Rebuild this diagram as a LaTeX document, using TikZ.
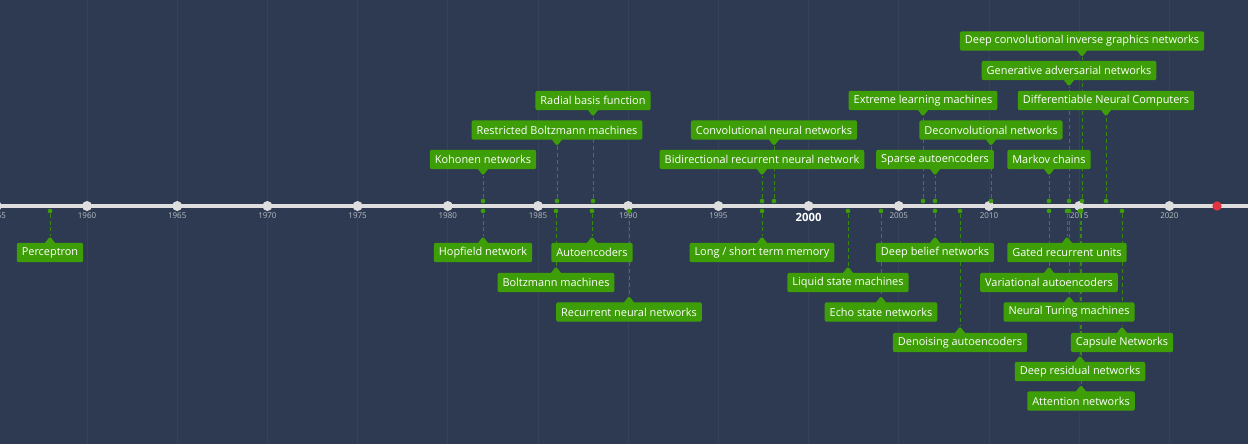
\documentclass[tikz,border=0pt]{standalone}
\usepackage{fontspec}
\setmainfont{Open Sans}
\usetikzlibrary{shapes.callouts,backgrounds}
\definecolor{slate}{RGB}{45,58,81}
\definecolor{gridline}{RGB}{54,66,88}
\definecolor{leaf}{RGB}{62,158,8}
\definecolor{stemgreen}{RGB}{52,138,14}
\definecolor{axisgray}{RGB}{222,222,222}
\definecolor{yeargray}{RGB}{185,190,198}
\definecolor{nowred}{RGB}{226,52,64}

\begin{document}
\begin{tikzpicture}[x=0.75pt,y=-0.75pt,
  lbl/.style={rectangle callout, fill=leaf, text=white, font=\fontsize{8.2}{9}\selectfont,
              minimum height=14.5pt, inner xsep=3.75pt, inner ysep=0pt,
              rounded corners=1.5pt, callout pointer width=7.5pt},
  evdot/.style={circle, fill=leaf, inner sep=0pt, minimum size=3.5pt},
  evline/.style={stemgreen, dash pattern=on 3pt off 2.2pt, line width=0.75pt},
  yeardot/.style={circle, fill=axisgray, inner sep=0pt, minimum size=7.5pt},
  yr/.style={text=yeargray, font=\fontsize{6}{7}\selectfont, inner sep=0pt}
]
\useasboundingbox (0,0) rectangle (1248,444);
\clip (0,0) rectangle (1248,444);

% backdrop and 5-year grid
\begin{pgfonlayer}{background}
\fill[slate] (0,0) rectangle (1248,444);
\foreach \y in {1955,1960,...,2020}{
  \pgfmathsetmacro\px{87+(\y-1960)*18.04}
  \draw[gridline, line width=0.75pt] (\px,0) -- (\px,444);
}
\end{pgfonlayer}

% axis
\draw[axisgray, line width=3pt] (0,206) -- (1248,206);
\foreach \y in {1955,1960,...,2020}{
  \pgfmathsetmacro\px{87+(\y-1960)*18.04}
  \node[yeardot] (t\y) at (\px,206) {};
  \ifnum\y=2000
    \node[text=white, font=\fontsize{8.5}{9}\bfseries, inner sep=0pt] (l\y) at (\px,217) {\y};
  \else
    \node[yr] (l\y) at (\px,216) {\y};
  \fi
}
\node[circle, fill=nowred, inner sep=0pt, minimum size=7pt] (now) at (1217,206) {};

% events above the axis
\node[evdot] (kohonen-d) at (483,201) {};
\node[lbl, callout absolute pointer={(483,175.5)}] (kohonen) at (483,159.5) {Kohonen networks};
\node[evdot] (rbm-d) at (557,201) {};
\node[lbl, callout absolute pointer={(557,146)}] (rbm) at (557,130) {Restricted Boltzmann machines};
\node[evdot] (rbf-d) at (593,201) {};
\node[lbl, callout absolute pointer={(593,116.5)}] (rbf) at (593,100.5) {Radial basis function};
\node[evdot] (brnn-d) at (762,201) {};
\node[lbl, callout absolute pointer={(762,175.5)}] (brnn) at (762,159.5) {Bidirectional recurrent neural network};
\node[evdot] (cnn-d) at (774,201) {};
\node[lbl, callout absolute pointer={(774,146)}] (cnn) at (774,130) {Convolutional neural networks};
\node[evdot] (elm-d) at (923,201) {};
\node[lbl, callout absolute pointer={(923,116.5)}] (elm) at (923,100.5) {Extreme learning machines};
\node[evdot] (sae-d) at (935,201) {};
\node[lbl, callout absolute pointer={(935,175.5)}] (sae) at (935,159.5) {Sparse autoencoders};
\node[evdot] (dcn-d) at (991,201) {};
\node[lbl, callout absolute pointer={(991,146)}] (dcn) at (991,130) {Deconvolutional networks};
\node[evdot] (markov-d) at (1049,201) {};
\node[lbl, callout absolute pointer={(1049,175.5)}] (markov) at (1049,159.5) {Markov chains};
\node[evdot] (gan-d) at (1069,201) {};
\node[lbl, callout absolute pointer={(1069,86.5)}] (gan) at (1069,70.5) {Generative adversarial networks};
\node[evdot] (dcign-d) at (1082,201) {};
\node[lbl, callout absolute pointer={(1082,57)}] (dcign) at (1082,41) {Deep convolutional inverse graphics networks};
\node[evdot] (dnc-d) at (1106,201) {};
\node[lbl, callout absolute pointer={(1106,116.5)}] (dnc) at (1106,100.5) {Differentiable Neural Computers};

% events below the axis
\node[evdot] (perc-d) at (50,211) {};
\node[lbl, callout absolute pointer={(50,236.5)}] (perc) at (50,252.5) {Perceptron};
\node[evdot] (hopfield-d) at (483,211) {};
\node[lbl, callout absolute pointer={(483,236.5)}] (hopfield) at (483,252.5) {Hopfield network};
\node[evdot] (bm-d) at (556,211) {};
\node[lbl, callout absolute pointer={(556,266.5)}] (bm) at (556,282.5) {Boltzmann machines};
\node[evdot] (ae-d) at (592,211) {};
\node[lbl, callout absolute pointer={(592,236.5)}] (ae) at (592,252.5) {Autoencoders};
\node[evdot] (rnn-d) at (629,211) {};
\node[lbl, callout absolute pointer={(629,296)}] (rnn) at (629,312) {Recurrent neural networks};
\node[evdot] (lstm-d) at (762,211) {};
\node[lbl, callout absolute pointer={(762,236.5)}] (lstm) at (762,252.5) {Long / short term memory};
\node[evdot] (lsm-d) at (848,211) {};
\node[lbl, callout absolute pointer={(848,266.5)}] (lsm) at (848,282.5) {Liquid state machines};
\node[evdot] (esn-d) at (881,211) {};
\node[lbl, callout absolute pointer={(881,296)}] (esn) at (881,312) {Echo state networks};
\node[evdot] (dbn-d) at (935,211) {};
\node[lbl, callout absolute pointer={(935,236.5)}] (dbn) at (935,252.5) {Deep belief networks};
\node[evdot] (dae-d) at (960,211) {};
\node[lbl, callout absolute pointer={(960,326.5)}] (dae) at (960,342.5) {Denoising autoencoders};
\node[evdot] (vae-d) at (1049,211) {};
\node[lbl, callout absolute pointer={(1049,266.5)}] (vae) at (1049,282.5) {Variational autoencoders};
\node[evdot] (gru-d) at (1067,211) {};
\node[lbl, callout absolute pointer={(1067,236.5)}] (gru) at (1067,252.5) {Gated recurrent units};
\node[evdot] (ntm-d) at (1069,211) {};
\node[lbl, callout absolute pointer={(1069,296)}] (ntm) at (1069,312) {Neural Turing machines};
\node[evdot] (drn-d) at (1080,211) {};
\node[lbl, callout absolute pointer={(1080,355.5)}] (drn) at (1080,371.5) {Deep residual networks};
\node[evdot] (attn-d) at (1081,211) {};
\node[lbl, callout absolute pointer={(1081,385)}] (attn) at (1081,401) {Attention networks};
\node[evdot] (caps-d) at (1122,211) {};
\node[lbl, callout absolute pointer={(1122,326.5)}] (caps) at (1122,342.5) {Capsule Networks};

% dashed stems, kept behind the labels
\begin{pgfonlayer}{background}
\foreach \e in {kohonen,rbm,rbf,brnn,cnn,elm,sae,dcn,markov,gan,dcign,dnc,
                perc,hopfield,bm,ae,rnn,lstm,lsm,esn,dbn,dae,vae,gru,ntm,drn,attn,caps}
  \draw[evline] (\e-d) -- (\e.pointer);
\end{pgfonlayer}
\end{tikzpicture}
\end{document}
